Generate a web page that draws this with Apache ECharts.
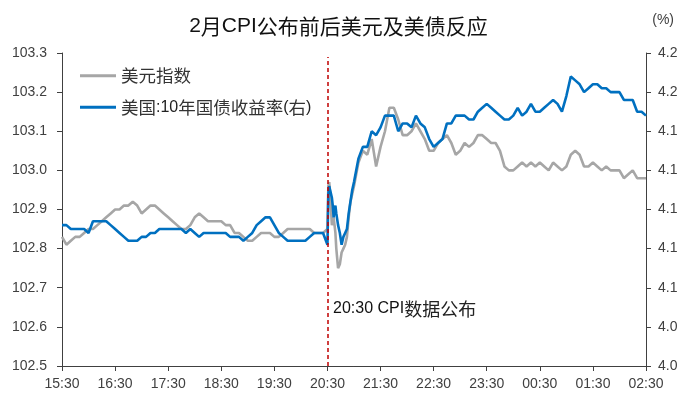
<!DOCTYPE html>
<html><head><meta charset="utf-8">
<script src="https://cdn.jsdelivr.net/npm/echarts@6/dist/echarts.min.js"></script>
<style>html,body{margin:0;padding:0;background:#fff}#c{width:677px;height:393px}</style>
</head><body><div id="c"></div>
<script>
const chartTitle = '2月CPI公布前后美元及美债反应';
const seriesNames = ['美元指数', '美国:10年国债收益率(右)'];
const xTickLabels = ['15:30','16:30','17:30','18:30','19:30','20:30','21:30','22:30','23:30','00:30','01:30','02:30'];
const eventTime = '20:30';
const eventLabel = '20:30 CPI数据公布';
const unitLabel = '(%)';

const times = [
 '15:30','15:35','15:40','15:45','15:50','15:55','16:00','16:05','16:10','16:15',
 '16:20','16:25','16:30','16:35','16:40','16:45','16:50','16:55','17:00','17:05',
 '17:10','17:15','17:20','17:25','17:30','17:35','17:40','17:45','17:50','17:55',
 '18:00','18:05','18:10','18:15','18:20','18:25','18:30','18:35','18:40','18:45',
 '18:50','18:55','19:00','19:05','19:10','19:15','19:20','19:25','19:30','19:35',
 '19:40','19:45','19:50','19:55','20:00','20:05','20:10','20:15','20:20','20:25',
 '20:30',
 '20:31','20:32','20:33','20:34','20:35','20:36','20:37','20:38','20:39','20:40',
 '20:42','20:44','20:46','20:48','20:50','20:52','20:54','20:56','20:58','21:00',
 '21:05','21:10','21:15','21:20','21:25','21:30','21:35','21:40','21:45','21:50',
 '21:55','22:00','22:05','22:10','22:15','22:20','22:25','22:30','22:35','22:40',
 '22:45','22:50','22:55','23:00','23:05','23:10','23:15','23:20','23:25','23:30',
 '23:35','23:40','23:45','23:50','23:55','00:00','00:05','00:10','00:15','00:20',
 '00:25','00:30','00:35','00:40','00:45','00:50','00:55','01:00','01:05','01:10',
 '01:15','01:20','01:25','01:30','01:35','01:40','01:45','01:50','01:55','02:00',
 '02:05','02:10','02:15','02:20','02:25','02:30'
];

const usdIndex = [
 102.83,102.81,102.82,102.83,102.83,102.84,102.85,102.85,102.86,102.87,
 102.88,102.89,102.90,102.90,102.91,102.91,102.92,102.91,102.89,102.90,
 102.91,102.91,102.90,102.89,102.88,102.87,102.86,102.85,102.85,102.86,
 102.88,102.89,102.88,102.87,102.87,102.87,102.87,102.86,102.86,102.84,
 102.84,102.83,102.82,102.82,102.83,102.84,102.84,102.84,102.83,102.83,
 102.84,102.85,102.85,102.85,102.85,102.85,102.85,102.84,102.84,102.84,
 102.85,
 102.96,102.97,102.94,102.90,102.86,102.87,102.88,102.86,102.84,102.80,
 102.75,102.76,102.79,102.80,102.81,102.83,102.88,102.92,102.94,102.96,
 103.02,103.05,103.04,103.08,103.01,103.06,103.10,103.16,103.16,103.13,
 103.09,103.09,103.10,103.12,103.10,103.08,103.05,103.05,103.07,103.08,
 103.09,103.07,103.04,103.05,103.07,103.06,103.07,103.09,103.09,103.08,
 103.07,103.07,103.05,103.01,103.00,103.00,103.01,103.02,103.01,103.02,
 103.01,103.02,103.01,103.00,103.02,103.01,103.00,103.01,103.04,103.05,
 103.04,103.01,103.01,103.02,103.01,103.00,103.01,103.00,103.00,103.00,
 102.98,102.99,103.00,102.98,102.98,102.98
];

const ust10y = [
 4.132,4.132,4.130,4.130,4.130,4.130,4.128,4.134,4.134,4.134,
 4.134,4.132,4.130,4.128,4.126,4.124,4.124,4.124,4.126,4.126,
 4.128,4.128,4.130,4.130,4.130,4.130,4.130,4.130,4.128,4.130,
 4.128,4.126,4.128,4.128,4.128,4.128,4.128,4.128,4.126,4.126,
 4.126,4.124,4.126,4.128,4.132,4.134,4.136,4.136,4.132,4.128,
 4.126,4.124,4.124,4.124,4.124,4.124,4.126,4.128,4.128,4.128,
 4.122,
 4.148,4.152,4.150,4.150,4.146,4.142,4.136,4.140,4.142,4.138,
 4.132,4.128,4.122,4.126,4.128,4.130,4.138,4.144,4.150,4.154,
 4.166,4.172,4.172,4.180,4.178,4.182,4.188,4.188,4.188,4.180,
 4.184,4.184,4.182,4.188,4.184,4.182,4.176,4.172,4.174,4.176,
 4.184,4.184,4.188,4.188,4.188,4.186,4.186,4.190,4.192,4.194,
 4.192,4.190,4.188,4.186,4.186,4.188,4.192,4.188,4.190,4.194,
 4.190,4.190,4.192,4.194,4.196,4.194,4.190,4.198,4.208,4.206,
 4.204,4.200,4.202,4.204,4.204,4.202,4.202,4.200,4.200,4.200,
 4.196,4.196,4.196,4.190,4.190,4.188
];

function toMin(t) {
  const p = t.split(':').map(Number);
  let v = p[0] * 60 + p[1] - (15 * 60 + 30);
  if (v < 0) v += 1440;
  return v;
}
function fromMin(m) {
  const total = (15 * 60 + 30 + m) % 1440;
  const h = Math.floor(total / 60), mm = total % 60;
  return String(h).padStart(2, '0') + ':' + String(mm).padStart(2, '0');
}
// split text into CJK / Latin runs for mixed-font rich text
function richify(s) {
  return s.replace(/([\u3000-\u9fff\uff00-\uffef]+)|([^\u3000-\u9fff\uff00-\uffef]+)/g,
    (m, c, l) => c ? '{c|' + c + '}' : '{l|' + l + '}');
}

const axisColor = '#404040';
const latinFont = 'Liberation Sans, Arial, sans-serif';
const cjkFont = 'Noto Sans CJK SC, sans-serif';
const labelFont = { color: '#404040', fontSize: 14, fontFamily: latinFont };

const chart = echarts.init(document.getElementById('c'), null, { renderer: 'canvas' });
chart.setOption({
  animation: false,
  backgroundColor: '#fff',
  title: {
    text: richify(chartTitle), left: 'center', top: 8,
    textStyle: {
      fontWeight: 'normal',
      rich: {
        c: { fontSize: 21, fontWeight: 'normal', color: '#111', fontFamily: cjkFont, lineHeight: 26 },
        l: { fontSize: 21, fontWeight: 'normal', color: '#111', fontFamily: latinFont, lineHeight: 26 }
      }
    }
  },
  graphic: [
    { type: 'text', right: 3, top: 13, style: { text: unitLabel, fontSize: 14, fill: '#404040', fontFamily: latinFont } },
    { type: 'text', left: 333, top: 300, style: {
      text: richify(eventLabel),
      rich: {
        c: { fontSize: 18, fill: '#222', fontFamily: cjkFont, lineHeight: 22 },
        l: { fontSize: 16, fill: '#111', fontFamily: latinFont, lineHeight: 22 }
      }
    } }
  ],
  legend: {
    orient: 'vertical', left: 75, top: 62, itemGap: 14, itemWidth: 36, itemHeight: 3,
    icon: 'rect',
    formatter: name => richify(name),
    textStyle: {
      rich: {
        c: { fontSize: 17.5, color: '#333', fontFamily: cjkFont, lineHeight: 21 },
        l: { fontSize: 16, color: '#222', fontFamily: latinFont, lineHeight: 21 }
      }
    },
    data: seriesNames
  },
  grid: { left: 62, right: 31, top: 53, bottom: 27, containLabel: false, outerBoundsMode: 'none' },
  xAxis: {
    type: 'value', min: 0, max: 660, interval: 60,
    axisLine: { lineStyle: { color: axisColor, width: 1 } },
    axisTick: { show: true, length: 5, lineStyle: { color: axisColor } },
    axisLabel: Object.assign({ margin: 11, formatter: v => fromMin(v) }, labelFont),
    splitLine: { show: false }
  },
  yAxis: [
    {
      type: 'value', min: 102.5, max: 103.3, interval: 0.1,
      axisLine: { show: true, lineStyle: { color: axisColor } },
      axisTick: { show: true, length: 5, lineStyle: { color: axisColor } },
      axisLabel: Object.assign({ margin: 15, formatter: v => v.toFixed(1) }, labelFont),
      splitLine: { show: false }
    },
    {
      type: 'value', min: 4.06, max: 4.22, interval: 0.02,
      axisLine: { show: true, lineStyle: { color: axisColor } },
      axisTick: { show: true, length: 5, lineStyle: { color: axisColor } },
      axisLabel: Object.assign({ margin: 12, formatter: v => v.toFixed(2) }, labelFont),
      splitLine: { show: false }
    }
  ],
  series: [
    {
      name: seriesNames[0], type: 'line', yAxisIndex: 0, symbol: 'none',
      lineStyle: { color: '#A6A6A6', width: 2.6 }, itemStyle: { color: '#A6A6A6' },
      data: times.map((t, i) => [toMin(t), usdIndex[i]]),
      markLine: {
        silent: true, symbol: 'none', label: { show: false },
        lineStyle: { color: '#C00000', type: [4, 3], width: 1.5 },
        data: [[{ coord: [toMin(eventTime), 102.5] }, { coord: [toMin(eventTime), 103.29] }]]
      }
    },
    {
      name: seriesNames[1], type: 'line', yAxisIndex: 1, symbol: 'none',
      lineStyle: { color: '#0070C0', width: 2.6 }, itemStyle: { color: '#0070C0' },
      data: times.map((t, i) => [toMin(t), ust10y[i]])
    }
  ]
});
</script>
</body></html>
